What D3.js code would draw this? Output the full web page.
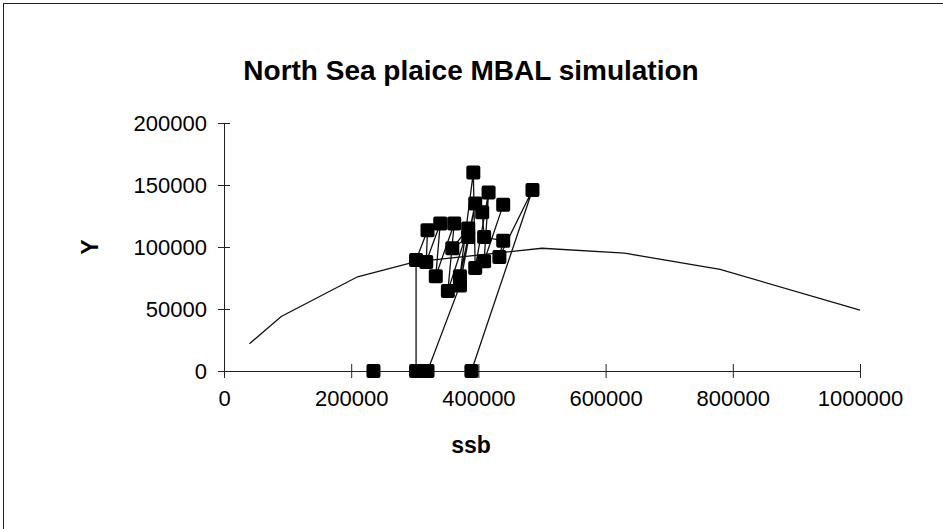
<!DOCTYPE html>
<html><head><meta charset="utf-8">
<script src="https://cdn.jsdelivr.net/npm/d3@7"></script>
<style>
html,body{margin:0;padding:0;background:#fff;}
svg{display:block;font-family:"Liberation Sans",Arial,sans-serif;}
</style></head>
<body>
<svg id="chart" width="943" height="529"></svg>
<script>
// Equilibrium yield curve
const curveSsb = [40000, 90000, 210000, 300000, 500000, 630000, 780000, 1000000];
const curveY   = [22000, 44000, 76000, 88000, 99000, 95000, 82000, 49000];

// Simulated trajectories (ssb, Y)
const sim0Ssb = [235000];
const sim0Y   = [0];
const sim1Ssb = [302000, 302000, 320000, 318000, 340000, 333000, 362000, 352000, 384000, 359000, 384000];
const sim1Y   = [0, 89500, 113500, 88000, 119000, 76500, 119000, 64500, 115000, 99000, 108000];
const sim2Ssb = [320000, 371000, 395000, 371000, 392000, 395000, 416000, 409000, 439000];
const sim2Y   = [0, 69000, 135000, 76500, 160000, 83000, 144000, 88500, 134000];
const sim3Ssb = [389000, 485000, 433000, 439000, 409000, 406000];
const sim3Y   = [0, 146000, 92000, 105000, 108000, 128000];

const xTicks = [0, 200000, 400000, 600000, 800000, 1000000];
const yTicks = [0, 50000, 100000, 150000, 200000];

const titleText = "North Sea plaice MBAL simulation";
const xLabel = "ssb";
const yLabel = "Y";

const svg = d3.select("#chart");
// outer frame
svg.append("rect").attr("x",3.5).attr("y",3.5).attr("width",960).attr("height",560)
  .attr("fill","none").attr("stroke","#222").attr("stroke-width",1);

const x = d3.scaleLinear().domain([0,1000000]).range([224,860]);
const y = d3.scaleLinear().domain([0,200000]).range([371,123]);

svg.append("text").attr("x",471).attr("y",80).attr("text-anchor","middle")
  .attr("font-size",28).attr("font-weight","bold").text(titleText);

const fmt = d3.format("d");
const gx = svg.append("g").attr("transform",`translate(0,${y(0)})`)
  .call(d3.axisBottom(x).tickValues(xTicks).tickFormat(fmt).tickSize(7).tickPadding(12).tickSizeOuter(0));
gx.selectAll(".tick line").attr("y1",-7).attr("y2",7);
const gy = svg.append("g").attr("transform",`translate(${x(0)},0)`)
  .call(d3.axisLeft(y).tickValues(yTicks).tickFormat(fmt).tickSize(6).tickPadding(11).tickSizeOuter(0));
gy.selectAll(".tick line").attr("x1",-6).attr("x2",6);
[gx,gy].forEach(g=>{
  g.selectAll("path,line").attr("stroke","#222");
  g.selectAll("text").attr("font-size",22).attr("fill","#000").attr("font-family","Liberation Sans, Arial, sans-serif");
});

svg.append("text").attr("x",471).attr("y",453).attr("text-anchor","middle")
  .attr("font-size",23).attr("font-weight","bold").text(xLabel);
svg.append("text").attr("transform","translate(98,247) rotate(-90)").attr("text-anchor","middle")
  .attr("font-size",23).attr("font-weight","bold").text(yLabel);

const line = d3.line().x(d=>x(d[0])).y(d=>y(d[1]));
const curve = curveSsb.map((s,i)=>[s,curveY[i]]);
svg.append("path").datum(curve).attr("d",line).attr("fill","none").attr("stroke","#111").attr("stroke-width",1.3);

const sims = [[sim0Ssb,sim0Y],[sim1Ssb,sim1Y],[sim2Ssb,sim2Y],[sim3Ssb,sim3Y]]
  .map(([s,v])=>s.map((d,i)=>[d,v[i]]));
sims.forEach(pts=>{
  svg.append("path").datum(pts).attr("d",line).attr("fill","none").attr("stroke","#111").attr("stroke-width",1.3);
});
const ms = 14;
sims.forEach(pts=>{
  svg.append("g").selectAll("rect").data(pts).join("rect")
    .attr("x",d=>x(d[0])-ms/2).attr("y",d=>y(d[1])-ms/2)
    .attr("width",ms).attr("height",ms).attr("rx",2).attr("fill","#000");
});
</script>
</body></html>
